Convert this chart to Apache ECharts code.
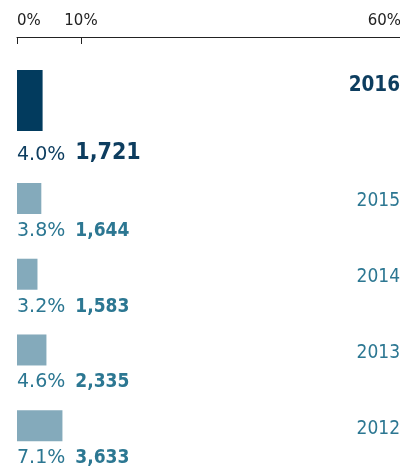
<!DOCTYPE html>
<html><head><meta charset="utf-8">
<script src="https://cdn.jsdelivr.net/npm/echarts@6/dist/echarts.min.js"></script>
<style>html,body{margin:0;padding:0;background:#fff}#c{width:400px;height:468px}</style>
</head><body><div id="c"></div>
<script>
const years = ['2016', '2015', '2014', '2013', '2012'];
const shares = [4.0, 3.8, 3.2, 4.6, 7.1];
const counts = [1721, 1644, 1583, 2335, 3633];
const tickValues = [0, 10, 60];

const DARK = '#023b5e', DARK_TXT = '#0d3d5f';
const LIGHT = '#84aabb', LIGHT_TXT = '#2c7792';
const fmt = n => n.toLocaleString('en-US');

const chart = echarts.init(document.getElementById('c'), null, {renderer: 'canvas'});

function labelFor(offset, big) {
  return {
    show: true,
    position: big ? [0, 83] : [0, 48],
    align: 'left',
    verticalAlign: 'middle',
    formatter: p => `{p|${shares[p.dataIndex + offset].toFixed(1)}%}{c|${fmt(counts[p.dataIndex + offset])}}`,
    rich: {
      p: {fontFamily: 'DejaVu Sans', fontSize: 19, color: big ? DARK_TXT : LIGHT_TXT, padding: [0, 10, 0, 0], verticalAlign: 'bottom', lineHeight: big ? 24 : 19},
      c: {fontFamily: 'DejaVu Sans Condensed', fontWeight: 'bold', fontSize: big ? 23 : 19, color: big ? DARK_TXT : LIGHT_TXT, verticalAlign: 'bottom', lineHeight: big ? 24 : 19}
    }
  };
}

const hiddenX = {type: 'value', min: 0, max: 60, show: false};

chart.setOption({
  animation: false,
  grid: [
    {left: 17, right: -1, top: 37, height: 127, outerBoundsMode: 'none', containLabel: false},
    {left: 17, right: -1, top: 160.6, height: 303, outerBoundsMode: 'none', containLabel: false}
  ],
  xAxis: [
    {
      gridIndex: 0, type: 'value', min: 0, max: 60, position: 'top',
      axisLine: {show: true, lineStyle: {color: '#222', width: 1}},
      axisTick: {show: true, inside: true, length: 7, customValues: tickValues, lineStyle: {color: '#222', width: 1}},
      axisLabel: {customValues: tickValues, formatter: '{value}%', fontFamily: 'DejaVu Sans', fontSize: 15, color: '#222', margin: 8, alignMinLabel: 'left', alignMaxLabel: 'right'},
      splitLine: {show: false}
    },
    Object.assign({gridIndex: 1}, hiddenX)
  ],
  yAxis: [
    {
      gridIndex: 0, type: 'category', data: years.slice(0, 1), position: 'right',
      axisLine: {show: false}, axisTick: {show: false}, splitLine: {show: false},
      axisLabel: {inside: true, margin: 1, fontFamily: 'DejaVu Sans Condensed', fontWeight: 'bold', fontSize: 20.5, color: DARK_TXT, verticalAlign: 'bottom', lineHeight: 30}
    },
    {
      gridIndex: 1, type: 'category', data: years.slice(1), inverse: true, position: 'right',
      axisLine: {show: false}, axisTick: {show: false}, splitLine: {show: false},
      axisLabel: {inside: true, margin: 1, fontFamily: 'DejaVu Sans Condensed', fontSize: 19, color: LIGHT_TXT, verticalAlign: 'top', lineHeight: 6}
    }
  ],
  series: [
    {
      type: 'bar', xAxisIndex: 0, yAxisIndex: 0, barWidth: 61,
      data: shares.slice(0, 1), itemStyle: {color: DARK},
      label: labelFor(0, true)
    },
    {
      type: 'bar', xAxisIndex: 1, yAxisIndex: 1, barWidth: 31,
      data: shares.slice(1), itemStyle: {color: LIGHT},
      label: labelFor(1, false)
    }
  ]
});
</script>
</body></html>
